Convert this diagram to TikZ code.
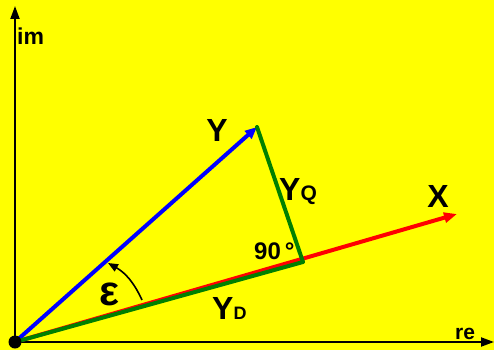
\documentclass[tikz,border=0pt]{standalone}
\usepackage{fontspec}
\setmainfont{Liberation Sans}
\usetikzlibrary{arrows.meta}
\definecolor{bgyellow}{RGB}{255,255,0}
\definecolor{vblue}{RGB}{0,0,255}
\definecolor{vred}{RGB}{255,0,0}
\definecolor{vgreen}{RGB}{0,128,0}
\newcommand{\fs}[1]{\fontsize{#1}{#1}\selectfont}
\tikzset{
  axis/.style={line width=2pt,-{Triangle[length=13pt,width=9pt]}},
  vec/.style={line width=4pt},
  lbl/.style={inner sep=0pt,font=\bfseries},
}
\begin{document}
\begin{tikzpicture}[x=1pt,y=-1pt]
\fill[bgyellow] (0,0) rectangle (494,350);
\useasboundingbox (0,0) rectangle (494,350);
\coordinate (O) at (15,342);
\coordinate (imtop) at (15,6);
\coordinate (retop) at (494,342);
\coordinate (Y) at (257,127);
\coordinate (X) at (457,214);
\coordinate (D) at (303,262);
\coordinate (a1) at (142,300);
\coordinate (a2) at (108,263);
% axes
\draw[axis] (O) -- (imtop);
\draw[axis] (O) -- (retop);
% vectors
\draw[vec,vred,-{Triangle[length=13pt,width=10pt]}] (O) -- (X);
\draw[vec,vblue,-{Triangle[length=12pt,width=10pt]}] (O) -- (Y);
\draw[vec,vgreen] (O) -- (D);
\draw[vec,vgreen,line cap=round] (Y) -- (D);
% angle arc
\draw[line width=1.6pt,-{Triangle[length=10pt,width=8pt]}] (a1) to[bend right=18] (a2);
% origin dot
\fill (O) circle (6.5pt);
% labels
\node[lbl,anchor=base west,font=\bfseries\fs{23}] (lim) at (17,45) {im};
\node[lbl,anchor=base west,font=\bfseries\fs{21}] (lre) at (455,339) {re};
\node[lbl,anchor=base,font=\bfseries\fs{32}] (lY) at (217,141) {Y};
\node[lbl,anchor=base,font=\bfseries\fs{32}] (lX) at (438,207) {X};
\node[lbl,anchor=base west] (lYQ) at (279,200) {\fs{32}Y\fs{21}Q};
\node[lbl,anchor=base west] (lYD) at (212,319) {\fs{32}Y\fs{18}D};
\node[lbl,anchor=base west,font=\bfseries\fs{24}] (l90) at (254,259) {90\,°};
\node[lbl,anchor=base,font=\bfseries\fs{42}] (leps) at (109,305) {ε};
\end{tikzpicture}
\end{document}
